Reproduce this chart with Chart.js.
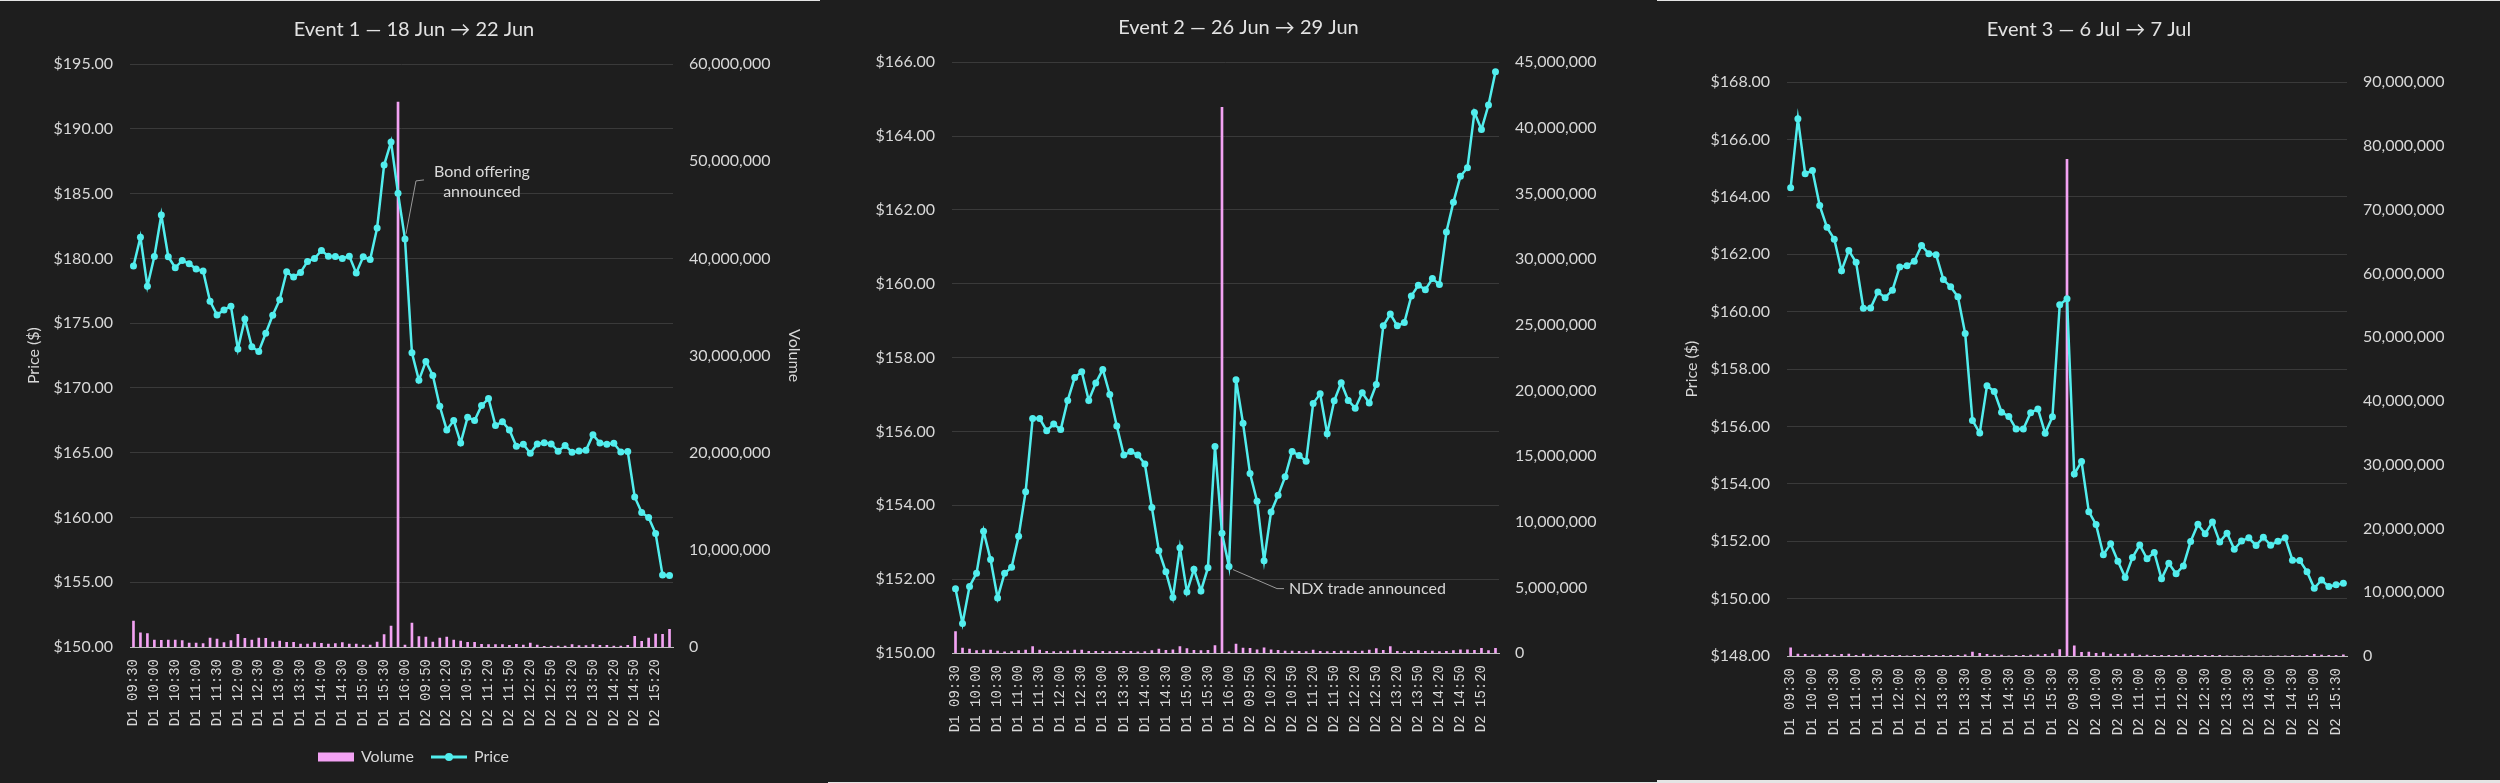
<!DOCTYPE html>
<html>
<head>
<meta charset="utf-8">
<title>Event windows</title>
<script src="https://cdn.jsdelivr.net/npm/chart.js@4.4.1/dist/chart.umd.min.js"></script>
<style>
  html, body { margin: 0; padding: 0; }
  body { width: 2500px; height: 783px; background: #e4e4e4; position: relative; overflow: hidden; }
  .panel { position: absolute; background: #1e1e1e; }
  #p1 { left: 0; top: 1px; width: 828px; height: 782px; }
  #p2 { left: 820px; top: 0; width: 837px; height: 782px; }
  #p3 { left: 1657px; top: 1px; width: 843px; height: 779px; }
  canvas { display: block; }
</style>
</head>
<body>
<div class="panel" id="p1"><canvas id="c1"></canvas></div>
<div class="panel" id="p2"><canvas id="c2"></canvas></div>
<div class="panel" id="p3"><canvas id="c3"></canvas></div>
<script>
// 10-minute bars of one session
const sessionTimes = ['09:30', '09:40', '09:50', '10:00', '10:10', '10:20', '10:30', '10:40', '10:50',
  '11:00', '11:10', '11:20', '11:30', '11:40', '11:50', '12:00', '12:10', '12:20', '12:30', '12:40',
  '12:50', '13:00', '13:10', '13:20', '13:30', '13:40', '13:50', '14:00', '14:10', '14:20', '14:30',
  '14:40', '14:50', '15:00', '15:10', '15:20', '15:30', '15:40', '15:50', '16:00'];

// events 1 and 2: D1 09:30-16:00, D2 09:30-15:40
const labels12 = [...sessionTimes.map(t => 'D1 ' + t), ...sessionTimes.slice(0, 38).map(t => 'D2 ' + t)];
// event 3: D1 09:30-15:50, D2 09:30-15:40
const labels3 = [...sessionTimes.slice(0, 39).map(t => 'D1 ' + t), ...sessionTimes.slice(0, 38).map(t => 'D2 ' + t)];

const price1 = [179.41, 181.64, 177.85, 180.15, 183.36, 180.13, 179.28, 179.85, 179.60, 179.18,
  179.03, 176.69, 175.64, 176.03, 176.31, 173.00, 175.33, 173.18, 172.82, 174.23,
  175.62, 176.82, 178.97, 178.56, 178.92, 179.77, 180.00, 180.62, 180.18, 180.15,
  180.00, 180.18, 178.87, 180.13, 179.92, 182.36, 187.21, 189.00, 185.03, 181.51,
  172.72, 170.59, 172.05, 170.97, 168.59, 166.76, 167.48, 165.76, 167.74, 167.48,
  168.64, 169.18, 167.10, 167.40, 166.76, 165.50, 165.66, 164.96, 165.68, 165.78,
  165.68, 165.12, 165.55, 165.04, 165.14, 165.19, 166.38, 165.76, 165.66, 165.73,
  165.06, 165.09, 161.59, 160.39, 160.00, 158.77, 155.55, 155.53];
const volume1 = [2670000, 1470000, 1370000, 720000, 680000, 720000, 720000, 650000, 410000, 410000,
  340000, 920000, 820000, 450000, 650000, 1300000, 890000, 720000, 920000, 890000,
  510000, 620000, 480000, 480000, 310000, 310000, 450000, 380000, 310000, 340000,
  450000, 310000, 310000, 200000, 200000, 510000, 1270000, 2160000, 56100000, 200000,
  2470000, 1060000, 1030000, 510000, 920000, 1030000, 720000, 620000, 480000, 480000,
  270000, 240000, 240000, 240000, 170000, 270000, 200000, 410000, 200000, 70000,
  100000, 100000, 100000, 240000, 140000, 140000, 240000, 170000, 170000, 100000,
  100000, 170000, 1100000, 580000, 920000, 1340000, 1300000, 1820000];

const price2 = [151.74, 150.80, 151.80, 152.16, 153.30, 152.53, 151.49, 152.16, 152.32, 153.16,
  154.37, 156.35, 156.35, 156.02, 156.20, 156.05, 156.84, 157.46, 157.62, 156.84,
  157.31, 157.68, 157.00, 156.15, 155.36, 155.46, 155.36, 155.12, 153.94, 152.77,
  152.20, 151.50, 152.85, 151.65, 152.27, 151.68, 152.31, 155.59, 153.24, 152.34,
  157.40, 156.22, 154.86, 154.11, 152.50, 153.82, 154.27, 154.77, 155.46, 155.35,
  155.19, 156.76, 157.02, 155.94, 156.83, 157.32, 156.84, 156.63, 157.05, 156.77,
  157.27, 158.86, 159.18, 158.86, 158.95, 159.67, 159.96, 159.84, 160.14, 159.98,
  161.40, 162.21, 162.91, 163.14, 164.64, 164.18, 164.84, 165.74];
const volume2 = [1640000, 380000, 300000, 180000, 230000, 230000, 150000, 80000, 100000, 180000,
  230000, 480000, 230000, 130000, 100000, 100000, 150000, 230000, 230000, 130000,
  130000, 130000, 100000, 130000, 130000, 130000, 80000, 100000, 180000, 300000,
  200000, 250000, 480000, 330000, 200000, 180000, 200000, 560000, 41570000, 80000,
  680000, 380000, 350000, 250000, 400000, 250000, 200000, 150000, 150000, 130000,
  100000, 230000, 130000, 100000, 130000, 150000, 150000, 130000, 150000, 230000,
  330000, 200000, 480000, 130000, 100000, 130000, 180000, 130000, 150000, 100000,
  130000, 180000, 250000, 250000, 200000, 350000, 180000, 350000];

const price3 = [164.32, 166.73, 164.81, 164.92, 163.70, 162.94, 162.53, 161.43, 162.13, 161.72,
  160.12, 160.13, 160.69, 160.49, 160.75, 161.56, 161.60, 161.76, 162.31, 162.02,
  161.99, 161.12, 160.87, 160.52, 159.24, 156.21, 155.77, 157.42, 157.22, 156.50,
  156.35, 155.91, 155.91, 156.48, 156.61, 155.76, 156.34, 160.24, 160.45, 154.34,
  154.78, 153.03, 152.58, 151.53, 151.91, 151.30, 150.74, 151.43, 151.87, 151.39,
  151.61, 150.69, 151.23, 150.87, 151.14, 151.99, 152.59, 152.26, 152.67, 151.97,
  152.28, 151.72, 152.01, 152.12, 151.85, 152.14, 151.86, 152.00, 152.12, 151.34,
  151.33, 150.94, 150.36, 150.65, 150.42, 150.48, 150.54];
const volume3 = [1300000, 310000, 260000, 200000, 200000, 260000, 160000, 260000, 310000, 100000,
  310000, 160000, 160000, 100000, 100000, 100000, 20000, 100000, 100000, 100000,
  100000, 100000, 100000, 100000, 200000, 620000, 420000, 260000, 160000, 160000,
  20000, 100000, 100000, 160000, 200000, 260000, 360000, 990000, 77900000, 1610000,
  570000, 620000, 420000, 520000, 310000, 260000, 310000, 360000, 160000, 160000,
  100000, 100000, 100000, 100000, 200000, 100000, 100000, 100000, 100000, 100000,
  40000, 30000, 30000, 30000, 30000, 30000, 30000, 30000, 30000, 100000,
  30000, 100000, 260000, 160000, 100000, 100000, 200000];

const PRICE_COLOR = '#52eeee';
const VOLUME_COLOR = '#f3a2f3';
const GRID_COLOR = '#3a3a3a';
const TEXT_COLOR = '#d8d8d8';

// little pictures for the legend: a bar swatch and a line-with-dot swatch
function swatch(draw) {
  const c = document.createElement('canvas');
  c.width = 36;
  c.height = 10;
  draw(c.getContext('2d'));
  return c;
}
const volumeSwatch = swatch(g => { g.fillStyle = VOLUME_COLOR; g.fillRect(0, 0.5, 36, 9); });
const priceSwatch = swatch(g => {
  g.strokeStyle = PRICE_COLOR; g.lineWidth = 3;
  g.beginPath(); g.moveTo(0, 5); g.lineTo(36, 5); g.stroke();
  g.fillStyle = PRICE_COLOR;
  g.beginPath(); g.arc(18, 5, 4, 0, Math.PI * 2); g.fill();
});

// callout with a leader line, anchored on a price point
const calloutPlugin = {
  id: 'callout',
  afterDatasetsDraw(chart, args, opts) {
    if (!opts || !opts.lines) return;
    const pt = chart.getDatasetMeta(1).data[opts.index];
    const ctx = chart.ctx;
    ctx.save();
    ctx.strokeStyle = '#9a9a9a';
    ctx.lineWidth = 1;
    ctx.beginPath();
    opts.path.forEach(([dx, dy], i) => {
      if (i === 0) ctx.moveTo(pt.x + dx, pt.y + dy);
      else ctx.lineTo(pt.x + dx, pt.y + dy);
    });
    ctx.stroke();
    ctx.fillStyle = TEXT_COLOR;
    ctx.font = '16px Lato';
    ctx.textAlign = opts.align;
    ctx.textBaseline = 'middle';
    opts.lines.forEach((t, i) => ctx.fillText(t, pt.x + opts.textDx, pt.y + opts.textDy + i * 20));
    ctx.restore();
  }
};

function makeChart(id, cfg) {
  return new Chart(document.getElementById(id), {
    type: 'bar',
    data: {
      labels: cfg.labels,
      datasets: [
        {
          type: 'bar',
          label: 'Volume',
          data: cfg.volume,
          yAxisID: 'yVol',
          backgroundColor: VOLUME_COLOR,
          barThickness: 2,
          borderWidth: 0,
          order: 1
        },
        {
          type: 'line',
          label: 'Price',
          data: cfg.price,
          yAxisID: 'yPrice',
          borderColor: PRICE_COLOR,
          backgroundColor: PRICE_COLOR,
          borderWidth: 2.5,
          pointRadius: 3.5,
          pointBorderWidth: 0,
          tension: 0,
          order: 0
        }
      ]
    },
    options: {
      responsive: true,
      maintainAspectRatio: false,
      animation: false,
      layout: { padding: cfg.padding },
      plugins: {
        title: {
          display: true,
          text: cfg.title,
          color: '#e2e2e2',
          font: { size: 20, weight: 'normal' },
          padding: cfg.titlePadding
        },
        legend: {
          display: cfg.legend,
          position: 'bottom',
          labels: {
            color: TEXT_COLOR,
            font: { size: 16 },
            usePointStyle: true,
            pointStyleWidth: 34,
            padding: 18,
            sort: (a, b) => a.datasetIndex - b.datasetIndex,
            generateLabels(chart) {
              const items = Chart.defaults.plugins.legend.labels.generateLabels(chart);
              items.forEach(it => { it.pointStyle = it.datasetIndex === 0 ? volumeSwatch : priceSwatch; });
              return items;
            }
          }
        },
        tooltip: { enabled: false },
        callout: cfg.callout || false
      },
      scales: {
        x: {
          type: 'category',
          offset: true,
          grid: { display: false, drawTicks: false },
          border: { display: true, color: '#bdbdbd', width: 1 },
          ticks: {
            autoSkip: false,
            maxRotation: 90,
            minRotation: 90,
            padding: 12,
            color: TEXT_COLOR,
            font: { family: 'Liberation Mono', size: 14 },
            callback(value, index) { return index % 3 === 0 ? this.getLabelForValue(value) : ''; }
          },
          afterFit(scale) { scale.height = 84; }
        },
        yPrice: {
          position: 'left',
          min: cfg.priceMin,
          max: cfg.priceMax,
          grid: { color: GRID_COLOR, drawTicks: false },
          border: { display: false },
          ticks: {
            stepSize: cfg.priceStep,
            padding: 17,
            color: TEXT_COLOR,
            font: { size: 16 },
            callback: v => '$' + v.toFixed(2)
          },
          title: { display: cfg.priceTitle, text: 'Price ($)', color: TEXT_COLOR, font: { size: 16 } },
          afterFit(scale) { scale.width = cfg.leftWidth; }
        },
        yVol: {
          position: 'right',
          min: 0,
          max: cfg.volMax,
          grid: { display: false, drawTicks: false },
          border: { display: false },
          ticks: {
            stepSize: cfg.volStep,
            padding: 16,
            color: TEXT_COLOR,
            font: { size: 16 },
            callback: v => v.toLocaleString('en-US')
          },
          title: { display: cfg.volTitle, text: 'Volume', color: TEXT_COLOR, font: { size: 16 } },
          afterFit(scale) { scale.width = cfg.rightWidth; }
        }
      }
    },
    plugins: [calloutPlugin]
  });
}

function drawAll() {
  Chart.defaults.font.family = 'Lato';
  Chart.defaults.color = TEXT_COLOR;

  makeChart('c1', {
    title: 'Event 1 \u2014 18 Jun \u2192 22 Jun',
    labels: labels12, price: price1, volume: volume1,
    priceMin: 150, priceMax: 195, priceStep: 5,
    volMax: 60000000, volStep: 10000000,
    priceTitle: true, volTitle: true, legend: true,
    leftWidth: 110, rightWidth: 135,
    padding: { left: 20, right: 20, top: 0, bottom: 8 },
    titlePadding: { top: 16.6, bottom: 22.6 },
    callout: {
      index: 39,
      path: [[1, -5], [11, -58], [19, -59]],
      lines: ['Bond offering', 'announced'],
      align: 'center', textDx: 77, textDy: -67
    }
  });

  makeChart('c2', {
    title: 'Event 2 \u2014 26 Jun \u2192 29 Jun',
    labels: labels12, price: price2, volume: volume2,
    priceMin: 150, priceMax: 166, priceStep: 2,
    volMax: 45000000, volStep: 5000000,
    priceTitle: false, volTitle: false, legend: false,
    leftWidth: 132, rightWidth: 158,
    padding: { left: 0, right: 0, top: 0, bottom: 45 },
    titlePadding: { top: 15.6, bottom: 22.6 },
    callout: {
      index: 39,
      path: [[4, 3], [48, 22], [55, 22]],
      lines: ['NDX trade announced'],
      align: 'left', textDx: 60, textDy: 22
    }
  });

  makeChart('c3', {
    title: 'Event 3 \u2014 6 Jul \u2192 7 Jul',
    labels: labels3, price: price3, volume: volume3,
    priceMin: 148, priceMax: 168, priceStep: 2,
    volMax: 90000000, volStep: 10000000,
    priceTitle: true, volTitle: false, legend: false,
    leftWidth: 109, rightWidth: 153,
    padding: { left: 21, right: 0, top: 0, bottom: 40 },
    titlePadding: { top: 16.6, bottom: 40.6 }
  });
}

Promise.all([
  document.fonts.load('16px Lato'),
  document.fonts.load('14px "Liberation Mono"')
]).then(drawAll, drawAll);
</script>
</body>
</html>
